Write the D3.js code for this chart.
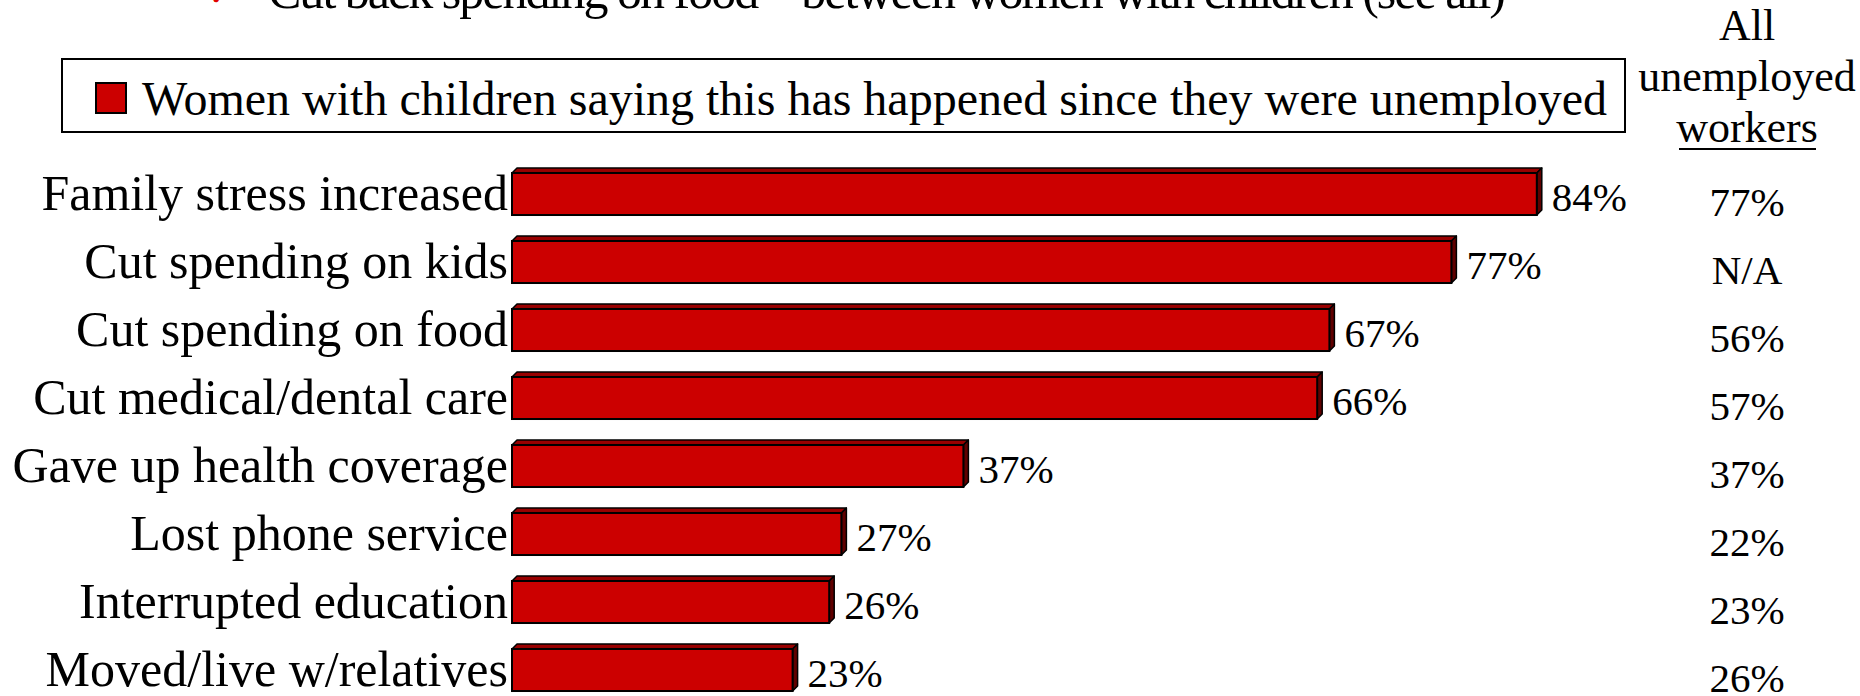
<!DOCTYPE html>
<html>
<head>
<meta charset="utf-8">
<script src="https://cdn.jsdelivr.net/npm/d3@7"></script>
<style>
  body { margin: 0; background: #fff; }
  svg text { font-family: "Liberation Serif", "Times New Roman", serif; fill: #000; }
</style>
</head>
<body>
<div id="chart"></div>
<script>
    // survey items, top to bottom
    var categories = [
        "Family stress increased",
        "Cut spending on kids",
        "Cut spending on food",
        "Cut medical/dental care",
        "Gave up health coverage",
        "Lost phone service",
        "Interrupted education",
        "Moved/live w/relatives"
    ]
    // women with children (%)
    var womenWithChildren = [84, 77, 67, 66, 37, 27, 26, 23]
    // all unemployed workers, shown as text column
    var allUnemployed = ["77%", "N/A", "56%", "57%", "37%", "22%", "23%", "26%"]

    var legendLabel = "Women with children saying this has happened since they were unemployed"
    var headerLines = ["All", "unemployed", "workers"]
    var titleText = "Cut back spending on food \u2013 between women with children (see all)"

    var width = 1860, height = 696
    var depth = 5

    var svg = d3.select("#chart").append("svg")
        .attr("width", width)
        .attr("height", height)

    var x = d3.scaleLinear().domain([0, 100]).range([512, 1732])
    var y = d3.scaleBand().domain(categories).range([160, 160 + 68 * categories.length])
        .paddingInner(0.382).paddingOuter(0.191)

    // title line, mostly cut off by the top edge
    svg.append("text")
        .attr("x", 206).attr("y", 6)
        .style("font-size", "40px")
        .style("fill", "#e00000")
        .text("\u2713")
    svg.append("text")
        .attr("x", 268).attr("y", 8)
        .attr("textLength", 1238)
        .style("font-size", "50px")
        .text(titleText)

    // legend box
    svg.append("rect")
        .attr("x", 62).attr("y", 59)
        .attr("width", 1563).attr("height", 73)
        .attr("fill", "#fff").attr("stroke", "#000").attr("stroke-width", 2)
    svg.append("rect")
        .attr("x", 96).attr("y", 83)
        .attr("width", 30).attr("height", 30)
        .attr("fill", "#cc0000").attr("stroke", "#000").attr("stroke-width", 2)
    svg.append("text")
        .attr("x", 142).attr("y", 115)
        .style("font-size", "48px")
        .text(legendLabel)

    // right column header
    var hx = 1747
    svg.selectAll("text.header")
        .data(headerLines)
        .join("text")
            .attr("class", "header")
            .attr("x", hx)
            .attr("y", (d, i) => 40 + i * 51)
            .attr("text-anchor", "middle")
            .style("font-size", "44px")
            .text(d => d)
    svg.append("line")
        .attr("x1", 1679).attr("x2", 1816)
        .attr("y1", 149).attr("y2", 149)
        .attr("stroke", "#000").attr("stroke-width", 2)

    var rows = categories.map((c, i) => ({cat: c, v: womenWithChildren[i], all: allUnemployed[i]}))

    var bar = svg.selectAll("g.bar")
        .data(rows)
        .join("g")
            .attr("class", "bar")

    // top face
    bar.append("polygon")
        .attr("points", d => {
            var x0 = x(0), x1 = x(d.v), y0 = y(d.cat)
            return [[x0, y0], [x0 + depth, y0 - depth], [x1 + depth, y0 - depth], [x1, y0]].join(" ")
        })
        .attr("fill", "#990000").attr("stroke", "#000").attr("stroke-width", 1.5)
        .attr("stroke-linejoin", "round")
    // side face
    bar.append("polygon")
        .attr("points", d => {
            var x1 = x(d.v), y0 = y(d.cat), y1 = y(d.cat) + y.bandwidth()
            return [[x1, y0], [x1 + depth, y0 - depth], [x1 + depth, y1 - depth], [x1, y1]].join(" ")
        })
        .attr("fill", "#600000").attr("stroke", "#000").attr("stroke-width", 1.5)
        .attr("stroke-linejoin", "round")
    // front face
    bar.append("rect")
        .attr("x", x(0))
        .attr("y", d => y(d.cat))
        .attr("width", d => x(d.v) - x(0))
        .attr("height", y.bandwidth())
        .attr("fill", "#cc0000").attr("stroke", "#000").attr("stroke-width", 2)

    // category labels
    bar.append("text")
        .attr("x", x(0) - 4)
        .attr("y", d => y(d.cat) + y.bandwidth() / 2 + 16)
        .attr("text-anchor", "end")
        .style("font-size", "50px")
        .text(d => d.cat)

    // value labels
    bar.append("text")
        .attr("x", d => x(d.v) + 15)
        .attr("y", d => y(d.cat) + y.bandwidth() / 2 + 17)
        .style("font-size", "41px")
        .text(d => d.v + "%")

    // all unemployed column
    bar.append("text")
        .attr("x", hx)
        .attr("y", d => y(d.cat) + y.bandwidth() / 2 + 22)
        .attr("text-anchor", "middle")
        .style("font-size", "41px")
        .text(d => d.all)
</script>
</body>
</html>
